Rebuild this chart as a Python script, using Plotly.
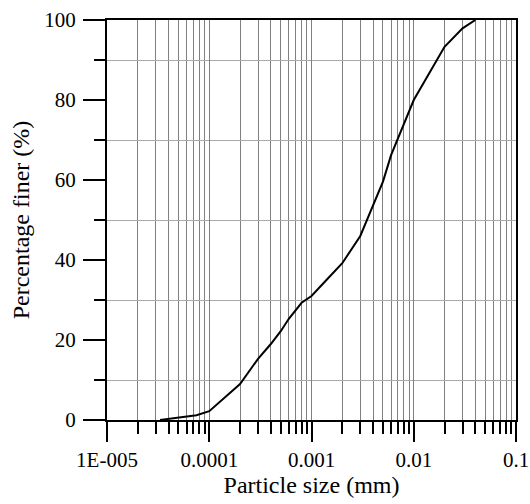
import plotly.graph_objects as go

# Data
size_mm = [3.3e-5, 4e-5, 5.5e-5, 7.5e-5, 1e-4, 2e-4, 3e-4, 4e-4, 5e-4, 6e-4, 8e-4,
           1e-3, 1.4e-3, 2e-3, 3e-3, 5e-3, 6e-3, 8e-3, 0.01, 0.02, 0.03, 0.04]
percent_finer = [0, 0.3, 0.7, 1.2, 2.2, 9.0, 15.3, 19.0, 22.2, 25.3, 29.3,
                 31.0, 35.0, 39.2, 46.0, 59.6, 66.2, 74.0, 80.0, 93.3, 97.9, 100]

major_x = [1e-5, 1e-4, 1e-3, 1e-2, 1e-1]
major_x_labels = ["1E-005", "0.0001", "0.001", "0.01", "0.1"]
decades = [1e-5, 1e-4, 1e-3, 1e-2]
minor_x = [m * d for d in decades for m in range(2, 10)]
major_y = [0, 20, 40, 60, 80, 100]
minor_y = [10, 30, 50, 70, 90]

FONT = "Times New Roman, Liberation Serif, DejaVu Serif, serif"

fig = go.Figure()
fig.add_trace(go.Scatter(
    x=size_mm, y=percent_finer, mode="lines",
    line=dict(color="black", width=2), showlegend=False,
))

fig.update_layout(
    width=530, height=504,
    margin=dict(l=107, r=14, t=20, b=84, autoexpand=False),
    paper_bgcolor="white", plot_bgcolor="white",
    font=dict(family=FONT, color="black", size=21),
)

fig.update_xaxes(
    type="log", range=[-5, -1], automargin=False,
    tickmode="array", tickvals=major_x, ticktext=major_x_labels,
    ticks="outside", ticklen=20, tickwidth=2, tickcolor="black",
    showline=True, linewidth=2, linecolor="black", mirror=True,
    showgrid=True, gridcolor="#808080", gridwidth=1,
    zeroline=False,
    tickfont=dict(family=FONT, size=21),
    title=dict(text="Particle size (mm)", font=dict(family=FONT, size=24), standoff=5),
    minor=dict(tickmode="array", tickvals=minor_x, ticks="outside", ticklen=12,
               tickwidth=2, tickcolor="black", showgrid=True,
               gridcolor="#808080", gridwidth=1),
)

fig.update_yaxes(
    range=[0, 100], automargin=False,
    tickmode="array", tickvals=major_y,
    ticks="outside", ticklen=22, tickwidth=2, tickcolor="black",
    ticklabelstandoff=3,
    showline=True, linewidth=2, linecolor="black", mirror=True,
    showgrid=False, zeroline=False,
    tickfont=dict(family=FONT, size=21),
    title=dict(text="Percentage finer (%)", font=dict(family=FONT, size=24), standoff=8),
    minor=dict(tickmode="array", tickvals=minor_y, ticks="outside", ticklen=11,
               tickwidth=2, tickcolor="black", showgrid=True,
               gridcolor="#a8a8a8", gridwidth=1),
)

fig.write_html("out.html")
